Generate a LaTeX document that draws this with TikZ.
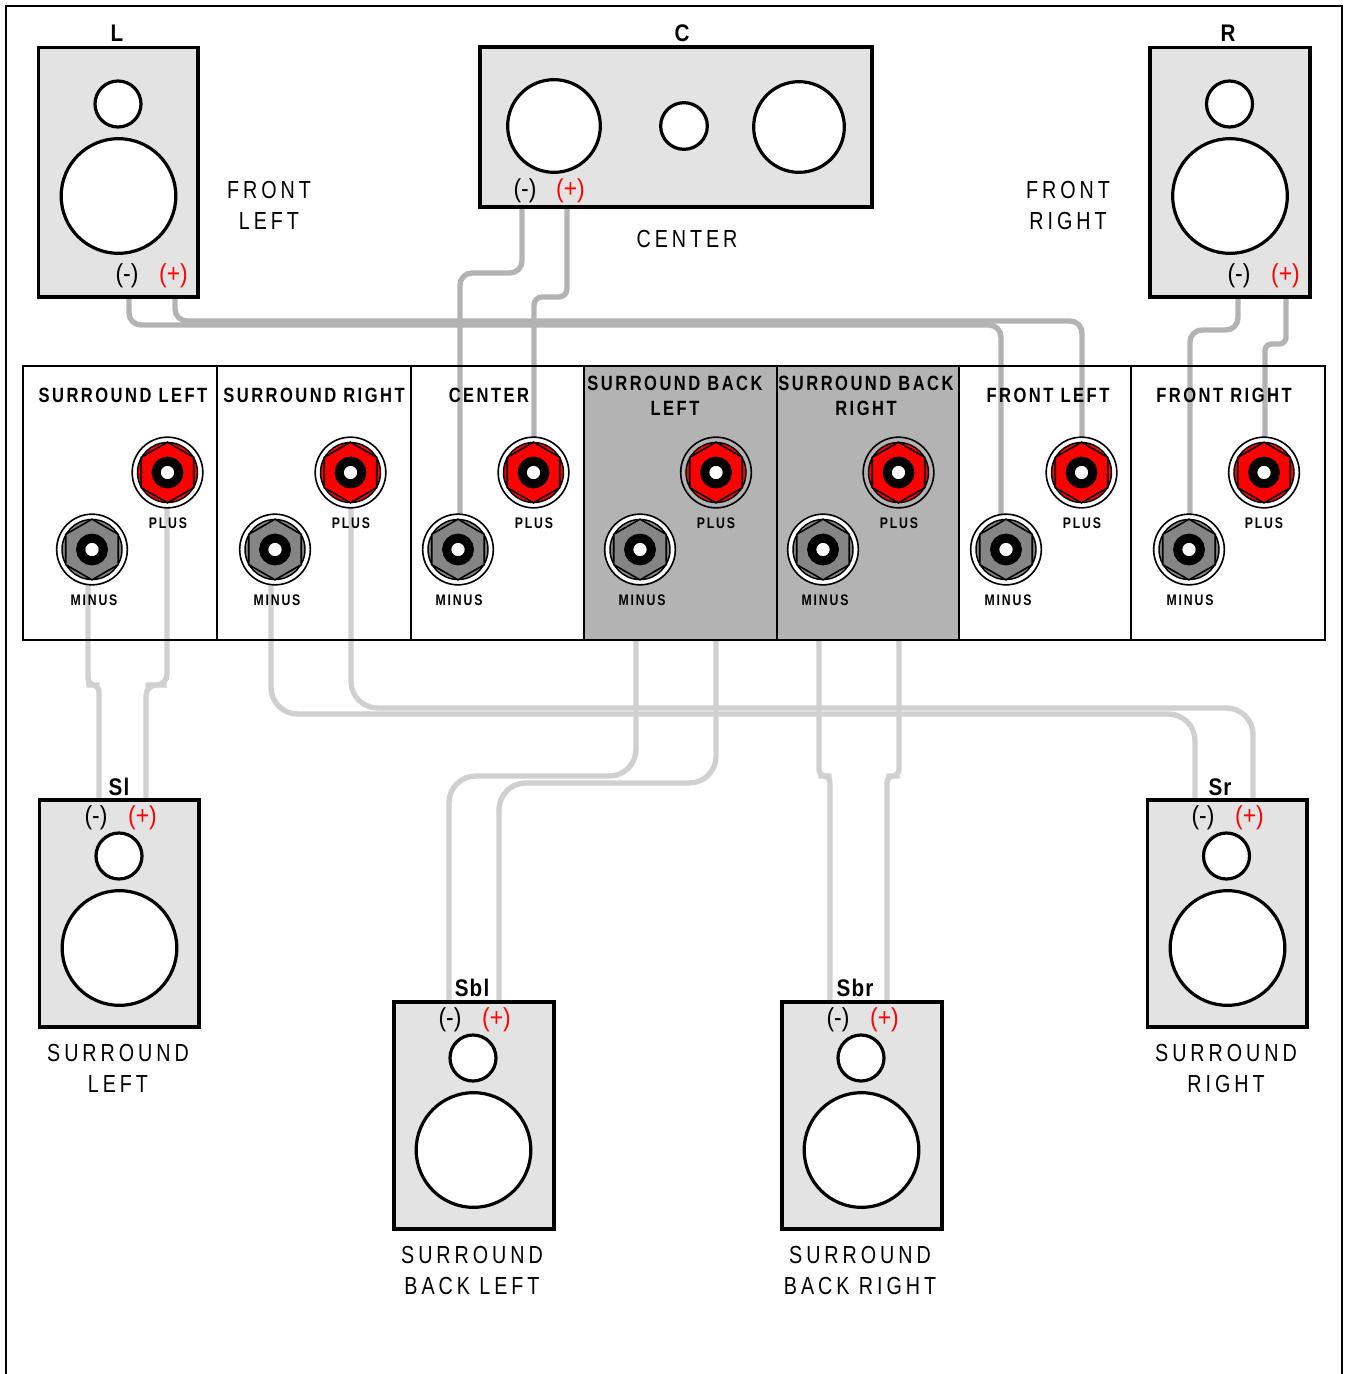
\documentclass[tikz,border=0pt]{standalone}
\usepackage{fontspec}
\usetikzlibrary{shapes.geometric}
\setmainfont{Liberation Sans}
\newfontfamily\lab[FakeStretch=.8,LetterSpace=16]{Liberation Sans}
\newfontfamily\pan[FakeStretch=.8,LetterSpace=12]{Liberation Sans}
\newfontfamily\tagf[FakeStretch=.86,LetterSpace=5]{Liberation Sans}
\newfontfamily\pol[FakeStretch=.88]{Liberation Sans}
\tikzset{
  px/.style={x=0.75pt,y=-0.75pt},
  cabinet/.style={draw=black,line width=2.7pt,fill=cabfill},
  driver/.style={circle,draw=black,line width=2.4pt,fill=white,inner sep=0pt,outer sep=0pt},
  tweeter/.style={driver,minimum size=34.5pt},
  woofer/.style={driver,minimum size=86pt},
  wirefront/.style={draw=wireA,line width=4pt,rounded corners=9pt},
  wirerear/.style={draw=wireB,line width=4pt,rounded corners=9pt},
  biglabel/.style={font=\lab\fontsize{18.5}{23}\selectfont,align=center,inner sep=0pt},
  tag/.style={font=\tagf\bfseries\fontsize{18}{20}\selectfont,inner sep=0pt},
  neglabel/.style={font=\pol\fontsize{19.5}{20}\selectfont,text=black,inner sep=0pt},
  poslabel/.style={font=\pol\fontsize{19.5}{20}\selectfont,text=red,inner sep=0pt},
  title/.style={font=\pan\bfseries\fontsize{15.5}{18.75}\selectfont,align=center,inner sep=0pt},
  small/.style={font=\pan\bfseries\fontsize{11.5}{12}\selectfont,inner sep=0pt},
  ring/.style={circle,draw=black,line width=1.2pt,inner sep=0pt,outer sep=0pt,minimum size=53pt},
  disc/.style={circle,draw=black,line width=1.1pt,inner sep=0pt,outer sep=0pt,minimum size=45pt},
  hexa/.style={regular polygon,regular polygon sides=6,shape border rotate=30,draw=black,line width=1.2pt,inner sep=0pt,outer sep=0pt,minimum size=45.5pt},
  hole/.style={circle,draw=black,fill=white,line width=6.8pt,inner sep=0pt,outer sep=0pt,minimum size=17pt},
}
\definecolor{cabfill}{HTML}{E3E3E3}
\definecolor{wireA}{HTML}{B3B3B3}
\definecolor{wireB}{HTML}{D0D0D0}
\definecolor{panelgrey}{HTML}{B3B3B3}
\definecolor{hexgrey}{HTML}{858585}
% name, x, y, colour, ring colour
\newcommand{\jack}[5]{%
  \node[ring,fill=#5] (#1) at (#2,#3) {};
  \node[disc,fill=#4] (#1d) at (#2,#3) {};
  \node[hexa,fill=#4] (#1h) at (#2,#3) {};
  \node[hole] (#1c) at (#2,#3) {};
}
\begin{document}
\begin{tikzpicture}[px]
\useasboundingbox (0,0) rectangle (1345,1374);
\draw[line width=1.9pt,line cap=butt] (6,1374) -- (6,6) -- (1342,6) -- (1342,1374);

% jack anchors
\coordinate (jp1) at (167,472); \coordinate (jm1) at (88,549);
\coordinate (jp2) at (351,472); \coordinate (jm2) at (271,549);
\coordinate (jp3) at (534,472); \coordinate (jm3) at (460,549);
\coordinate (jp4) at (716,472); \coordinate (jm4) at (636,549);
\coordinate (jp5) at (899,472); \coordinate (jm5) at (819,549);
\coordinate (jp6) at (1082,472); \coordinate (jm6) at (1001,549);
\coordinate (jp7) at (1265,472); \coordinate (jm7) at (1190,549);
% speaker wire ends
\coordinate (Lm) at (129,292); \coordinate (Lp) at (175,292);
\coordinate (Cm) at (522,202); \coordinate (Cp) at (567,202);
\coordinate (Rm) at (1238,292); \coordinate (Rp) at (1286,292);
\coordinate (Slm) at (99,805); \coordinate (Slp) at (146,805);
\coordinate (Srm) at (1195,805); \coordinate (Srp) at (1253,805);
\coordinate (Sblm) at (449,1007); \coordinate (Sblp) at (499,1007);
\coordinate (Sbrm) at (830,1007); \coordinate (Sbrp) at (887,1007);

% wires
\draw[wirefront] (Lm) -- ++(0,33) -| (jm6);
\draw[wirefront] (Lp) -- ++(0,29) -| (jp6);
\draw[wirefront,rounded corners=9pt] (Cm) -- ++(0,71) -| (jm3);
\draw[wirefront,rounded corners=6pt] (Cp) -- ++(0,95) -| (jp3);
\draw[wirefront] (Rm) -- ++(0,38) -| (jm7);
\draw[wirefront,rounded corners=5pt] (Rp) -- ++(0,52) -| (jp7);
\draw[wirerear,rounded corners=5pt] (jm1) |- (93,685) -| (Slm);
\draw[wirerear,rounded corners=8pt] (jp1) |- (156,685) -| (Slp);
\draw[wirerear,rounded corners=20pt] (jm2) |- (1000,714) -| (Srm);
\draw[wirerear,rounded corners=20pt] (jp2) |- (1000,708) -| (Srp);
\draw[wirerear,rounded corners=20pt] (jm4) |- (540,776) -| (Sblm);
\draw[wirerear,rounded corners=20pt] (jp4) |- (600,783) -| (Sblp);
\draw[wirerear,rounded corners=5pt] (jm5) |- (825,776) -| (Sbrm);
\draw[wirerear,rounded corners=5pt] (jp5) |- (893,776) -| (Sbrp);

% receiver panel
\fill[panelgrey] (585,366) rectangle (959,640);
\draw[line width=1.1pt] (23,366) rectangle (1325,640);
\draw[line width=1.1pt] (217,366) -- (217,640) (411,366) -- (411,640) (777,366) -- (777,640) (959,366) -- (959,640) (1131,366) -- (1131,640);
\draw[line width=2pt] (584,366) -- (584,640);

% jacks
\jack{tp1}{167.5}{472.5}{red}{white}
\jack{tp2}{350.5}{472.5}{red}{white}
\jack{tp3}{533.5}{472.5}{red}{white}
\jack{tp4}{716}{472.5}{red}{panelgrey}
\jack{tp5}{898.5}{472.5}{red}{panelgrey}
\jack{tp6}{1081.5}{472.5}{red}{white}
\jack{tp7}{1264}{472.5}{red}{white}
\jack{tm1}{92}{549.5}{hexgrey}{white}
\jack{tm2}{275}{549.5}{hexgrey}{white}
\jack{tm3}{458}{549.5}{hexgrey}{white}
\jack{tm4}{640}{549.5}{hexgrey}{white}
\jack{tm5}{823}{549.5}{hexgrey}{white}
\jack{tm6}{1006}{549.5}{hexgrey}{white}
\jack{tm7}{1189}{549.5}{hexgrey}{white}

% panel text
\node[title] (h1) at (123,395) {SURROUND LEFT};
\node[title] (h2) at (314,395) {SURROUND RIGHT};
\node[title] (h3) at (489,395) {CENTER};
\node[title] (h4) at (675,395.5) {SURROUND BACK\\LEFT};
\node[title] (h5) at (866,395.5) {SURROUND BACK\\RIGHT};
\node[title] (h6) at (1048,395) {FRONT LEFT};
\node[title] (h7) at (1224,395) {FRONT RIGHT};
\node[small] (pl1) at (168,523.5) {PLUS};
\node[small] (pl2) at (351,523.5) {PLUS};
\node[small] (pl3) at (534,523.5) {PLUS};
\node[small] (pl4) at (716,523.5) {PLUS};
\node[small] (pl5) at (899,523.5) {PLUS};
\node[small] (pl6) at (1082,523.5) {PLUS};
\node[small] (pl7) at (1264,523.5) {PLUS};
\node[small] (mi1) at (94,600.5) {MINUS};
\node[small] (mi2) at (277,600.5) {MINUS};
\node[small] (mi3) at (459,600.5) {MINUS};
\node[small] (mi4) at (642,600.5) {MINUS};
\node[small] (mi5) at (825,600.5) {MINUS};
\node[small] (mi6) at (1008,600.5) {MINUS};
\node[small] (mi7) at (1190,600.5) {MINUS};

% speakers
\draw[cabinet] (38.5,47.5) rectangle (198,297);
\node[tweeter] (Lt) at (118,104) {};
\node[woofer] (Lw) at (118.5,196) {};
\node[neglabel] (Ln) at (127,275.5) {(-)};
\node[poslabel] (Lq) at (173.5,275.5) {(+)};
\node[tag] (Ll) at (117,33) {L};
\node[biglabel] (Lc) at (269,205.5) {FRONT\\LEFT};

\draw[cabinet] (480,47) rectangle (872,207);
\node[driver,minimum size=69.5pt] (Cw1) at (554,126) {};
\node[driver,minimum size=35pt] (Ct) at (684,126) {};
\node[driver,minimum size=68pt] (Cw2) at (799,127) {};
\node[neglabel] (Cn) at (525,190.5) {(-)};
\node[poslabel] (Cq) at (570.5,190.5) {(+)};
\node[tag] (Cl) at (682,33) {C};
\node[biglabel] (Cc) at (687,239) {CENTER};

\draw[cabinet] (1150,47.5) rectangle (1310,297);
\node[tweeter] (Rt) at (1229.5,104) {};
\node[woofer] (Rw) at (1230,196) {};
\node[neglabel] (Rn) at (1239,275.5) {(-)};
\node[poslabel] (Rq) at (1285.5,275.5) {(+)};
\node[tag] (Rl) at (1228,33) {R};
\node[biglabel] (Rc) at (1068,205.5) {FRONT\\RIGHT};

\draw[cabinet] (39.5,800) rectangle (199,1027);
\node[tweeter] (Slt) at (119,856) {};
\node[woofer] (Slw) at (119.5,948) {};
\node[neglabel] (Sln) at (96,817.5) {(-)};
\node[poslabel] (Slq) at (142.5,817.5) {(+)};
\node[tag] (Sll) at (119,787) {Sl};
\node[biglabel] (Slc) at (118,1068.5) {SURROUND\\LEFT};

\draw[cabinet] (1147.5,800) rectangle (1307,1027);
\node[tweeter] (Srt) at (1226.5,856) {};
\node[woofer] (Srw) at (1227.5,948) {};
\node[neglabel] (Srn) at (1203,817.5) {(-)};
\node[poslabel] (Srq) at (1249.5,817.5) {(+)};
\node[tag] (Srl) at (1220,787) {Sr};
\node[biglabel] (Src) at (1226,1068.5) {SURROUND\\RIGHT};

\draw[cabinet] (394,1002) rectangle (554,1229);
\node[tweeter] (Sblt) at (473,1058) {};
\node[woofer] (Sblw) at (473.5,1150) {};
\node[neglabel] (Sbln) at (450,1019.5) {(-)};
\node[poslabel] (Sblq) at (496.5,1019.5) {(+)};
\node[tag] (Sbll) at (472,988) {Sbl};
\node[biglabel] (Sblc) at (472,1270.5) {SURROUND\\BACK LEFT};

\draw[cabinet] (782,1002) rectangle (942,1229);
\node[tweeter] (Sbrt) at (861,1058) {};
\node[woofer] (Sbrw) at (861.5,1150) {};
\node[neglabel] (Sbrn) at (838,1019.5) {(-)};
\node[poslabel] (Sbrq) at (884.5,1019.5) {(+)};
\node[tag] (Sbrl) at (855,988) {Sbr};
\node[biglabel] (Sbrc) at (860,1270.5) {SURROUND\\BACK RIGHT};
\end{tikzpicture}
\end{document}
